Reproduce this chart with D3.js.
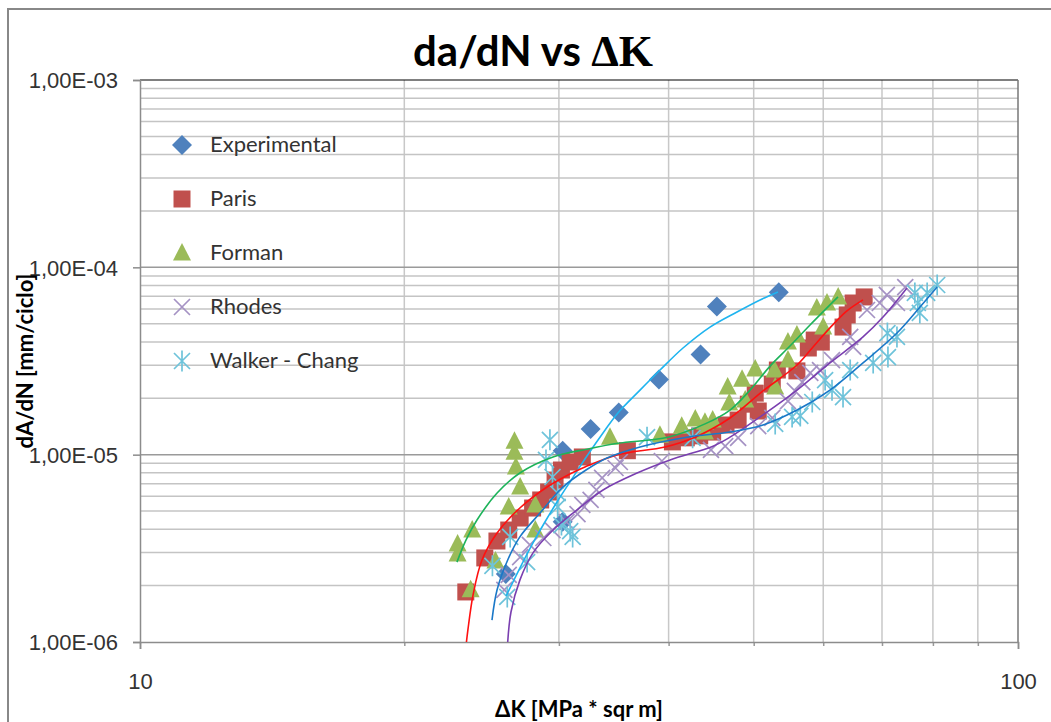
<!DOCTYPE html>
<html>
<head>
<meta charset="utf-8">
<script src="https://cdn.jsdelivr.net/npm/d3@7"></script>
<style>
  html, body { margin: 0; padding: 0; background: #fff; }
  svg { display: block; font-family: Lato, "Open Sans", sans-serif; }
</style>
</head>
<body>
<div id="chart"></div>
<script>
// ΔK [MPa*sqrt(m)] , da/dN [mm/ciclo]
const experimental = [[26.1, 2.31e-6], [30.3, 4.39e-6], [30.3, 1.05e-5], [32.6, 1.37e-5], [35.1, 1.68e-5],
  [39.0, 2.52e-5], [43.5, 3.43e-5], [45.4, 6.17e-5], [53.4, 7.36e-5]]

const paris = [[23.5, 1.85e-6], [24.7, 2.81e-6], [25.5, 3.46e-6], [26.3, 3.96e-6], [27.1, 4.59e-6], [28.0, 5.19e-6],
  [28.6, 5.73e-6], [29.2, 6.32e-6], [29.7, 7.32e-6], [30.2, 8.28e-6], [30.9, 9.14e-6], [31.9, 9.72e-6],
  [35.9, 1.05e-5], [40.4, 1.17e-5], [41.9, 1.23e-5], [43.4, 1.26e-5], [44.9, 1.32e-5], [46.5, 1.44e-5],
  [48.0, 1.53e-5], [49.3, 1.86e-5], [50.2, 2.13e-5], [50.6, 1.71e-5], [52.5, 2.38e-5], [53.2, 2.83e-5],
  [56.0, 2.80e-5], [57.7, 3.71e-5], [58.6, 4.09e-5], [59.7, 3.99e-5], [63.2, 4.80e-5], [63.9, 5.57e-5],
  [64.9, 6.45e-5], [66.8, 6.95e-5]]

const forman = [[23.0, 3.34e-6], [23.0, 2.95e-6], [23.8, 1.90e-6], [23.9, 3.96e-6], [25.4, 2.71e-6], [26.3, 5.26e-6],
  [26.7, 1.18e-5], [26.7, 1.03e-5], [26.8, 8.60e-6], [27.1, 6.72e-6], [28.2, 3.96e-6], [28.2, 5.39e-6],
  [34.3, 1.24e-5], [39.1, 1.27e-5], [41.4, 1.42e-5], [42.9, 1.55e-5], [44.0, 1.49e-5], [44.9, 1.53e-5],
  [44.0, 1.32e-5], [46.7, 2.30e-5], [46.9, 1.89e-5], [48.5, 2.53e-5], [48.9, 1.96e-5], [50.2, 2.87e-5],
  [52.9, 2.30e-5], [52.8, 2.83e-5], [54.7, 3.99e-5], [54.7, 3.20e-5], [56.0, 4.35e-5], [59.0, 6.07e-5],
  [60.0, 4.80e-5], [60.6, 6.45e-5], [62.4, 6.95e-5]]

const rhodes = [[26.0, 1.90e-6], [26.3, 2.28e-6], [27.1, 2.84e-6], [27.8, 3.30e-6], [28.8, 3.59e-6], [29.5, 3.96e-6],
  [30.6, 4.37e-6], [31.5, 4.82e-6], [31.9, 5.39e-6], [32.6, 5.73e-6], [33.1, 6.48e-6], [33.6, 7.51e-6],
  [34.8, 8.49e-6], [35.2, 9.14e-6], [39.3, 9.25e-6], [44.7, 1.06e-5], [46.4, 1.11e-5], [48.0, 1.23e-5],
  [50.6, 1.42e-5], [52.5, 1.57e-5], [54.7, 1.93e-5], [55.7, 2.19e-5], [56.8, 2.44e-5], [58.0, 2.73e-5],
  [59.5, 2.83e-5], [61.4, 3.20e-5], [64.4, 4.25e-5], [64.9, 3.76e-5], [67.3, 5.92e-5], [69.6, 6.45e-5],
  [70.9, 7.12e-5], [72.8, 6.45e-5], [74.4, 7.85e-5]]

const walkerChang = [[29.3, 1.20e-5], [29.0, 9.37e-6], [29.5, 7.60e-6], [29.9, 6.24e-6], [29.9, 5.26e-6], [30.2, 4.21e-6],
  [30.9, 3.91e-6], [31.1, 3.64e-6], [27.6, 2.67e-6], [26.4, 3.64e-6], [25.2, 2.55e-6], [26.2, 1.74e-6],
  [37.8, 1.24e-5], [42.6, 1.23e-5], [52.9, 1.46e-5], [55.3, 1.59e-5], [56.5, 1.61e-5], [58.3, 1.91e-5],
  [60.3, 2.50e-5], [61.4, 2.21e-5], [63.2, 2.03e-5], [64.4, 2.83e-5], [68.4, 3.09e-5], [71.1, 3.32e-5],
  [71.0, 4.46e-5], [72.8, 4.25e-5], [76.9, 6.45e-5], [77.3, 5.71e-5], [76.3, 7.30e-5], [78.8, 7.30e-5],
  [80.9, 8.05e-5]]

// trend lines
const trendExperimental = [[26.12, 1.76e-6], [27.08, 2.48e-6], [28.03, 3.38e-6], [28.92, 4.37e-6], [29.85, 5.59e-6],
  [30.88, 7.15e-6], [32.29, 9.84e-6], [33.85, 1.35e-5], [35.02, 1.67e-5], [37.11, 2.21e-5], [39.11, 2.83e-5],
  [41.54, 3.71e-5], [44.59, 4.80e-5], [47.86, 5.78e-5], [50.84, 6.70e-5], [53.29, 7.39e-5]]
const trendParis = [[23.54, 1.0e-6], [23.63, 1.16e-6], [23.95, 1.78e-6], [24.52, 2.74e-6], [25.51, 3.82e-6],
  [27.08, 5.19e-6], [29.08, 6.72e-6], [30.88, 7.89e-6], [32.12, 8.60e-6], [35.02, 1.0e-5], [39.62, 1.10e-5],
  [42.87, 1.24e-5], [46.99, 1.57e-5], [51.24, 2.19e-5], [56.02, 3.01e-5], [58.42, 3.76e-5], [61.07, 4.75e-5],
  [63.85, 5.85e-5], [66.60, 6.70e-5]]
const trendForman = [[22.96, 2.67e-6], [23.51, 3.50e-6], [24.20, 4.48e-6], [25.51, 6.24e-6], [27.08, 7.98e-6],
  [29.54, 9.72e-6], [32.29, 1.07e-5], [35.02, 1.15e-5], [39.94, 1.24e-5], [44.01, 1.46e-5], [46.99, 1.73e-5],
  [49.52, 2.21e-5], [52.19, 2.97e-5], [54.99, 3.80e-5], [57.96, 4.92e-5], [62.37, 6.95e-5]]
const trendRhodes = [[26.23, 1.0e-6], [26.46, 1.45e-6], [27.08, 2.14e-6], [28.03, 2.99e-6], [29.54, 3.96e-6],
  [31.46, 5.07e-6], [33.68, 6.48e-6], [36.83, 7.98e-6], [40.15, 9.37e-6], [44.94, 1.11e-5], [46.99, 1.24e-5],
  [51.24, 1.63e-5], [56.02, 2.21e-5], [61.07, 3.09e-5], [66.60, 4.25e-5], [70.19, 5.43e-5], [74.74, 7.76e-5]]
const trendWalker = [[25.17, 1.31e-6], [25.51, 1.90e-6], [26.23, 2.74e-6], [27.08, 3.64e-6], [28.55, 4.88e-6],
  [30.32, 6.72e-6], [32.21, 8.28e-6], [34.03, 9.60e-6], [37.11, 1.10e-5], [41.98, 1.24e-5], [46.99, 1.32e-5],
  [51.24, 1.44e-5], [56.02, 1.73e-5], [61.07, 2.21e-5], [66.60, 3.09e-5], [72.81, 4.46e-5], [77.34, 6.14e-5],
  [80.88, 7.85e-5]]

const xDomain = [10, 100]
const yDomain = [1e-6, 1e-3]
const xLabels = [10, 100]

const width = 1051
const height = 722
const plot = { left: 140, right: 1018, top: 80, bottom: 642 }

// marker shapes (path centred on 0,0)
const shapes = {
  diamond: 'M0,-10L10,0L0,10L-10,0Z',
  square: 'M-8.5,-8.5H8.5V8.5H-8.5Z',
  triangle: 'M0,-10L9,7.5H-9Z',
  cross: 'M-8,-8L8,8M8,-8L-8,8',
  star: 'M-8,-8L8,8M8,-8L-8,8M0,-10.5V10.5'
}

const series = [
  { name: 'Experimental', data: experimental, shape: 'diamond', fill: '#4f81bd', trend: trendExperimental, line: '#1fb4ef' },
  { name: 'Paris', data: paris, shape: 'square', fill: '#c0504d', trend: trendParis, line: '#ff1010' },
  { name: 'Forman', data: forman, shape: 'triangle', fill: '#9bbb59', trend: trendForman, line: '#1db35a' },
  { name: 'Rhodes', data: rhodes, shape: 'cross', stroke: '#a592c4', trend: trendRhodes, line: '#7a3fb0' },
  { name: 'Walker - Chang', data: walkerChang, shape: 'star', stroke: '#6ec3da', trend: trendWalker, line: '#1a78c8' }
]

const x = d3.scaleLog().domain(xDomain).range([plot.left, plot.right])
const y = d3.scaleLog().domain(yDomain).range([plot.bottom, plot.top])

const svg = d3.select('#chart').append('svg')
  .attr('width', width).attr('height', height)

// chart frame
svg.append('rect').attr('x', 8).attr('y', 9).attr('width', 1100).attr('height', 800)
  .attr('fill', '#fff').attr('stroke', '#888').attr('stroke-width', 2)

svg.append('defs').append('clipPath').attr('id', 'plotclip')
  .append('rect').attr('x', plot.left).attr('y', plot.top)
  .attr('width', plot.right - plot.left).attr('height', plot.bottom - plot.top)

// grid
const yTicks = y.ticks()
const isMajor = v => Math.abs(Math.log10(v) - Math.round(Math.log10(v))) < 1e-9
const grid = svg.append('g')
grid.selectAll('line.v').data(x.ticks().filter(v => v > 10 && v < 100)).join('line')
  .attr('x1', d => x(d)).attr('x2', d => x(d)).attr('y1', plot.top).attr('y2', plot.bottom)
  .attr('stroke', '#c8c8c8').attr('stroke-width', 1.5)
grid.selectAll('line.h').data(yTicks.filter(v => !isMajor(v))).join('line')
  .attr('x1', plot.left).attr('x2', plot.right).attr('y1', d => y(d)).attr('y2', d => y(d))
  .attr('stroke', '#c4c4c4').attr('stroke-width', 1.5)
grid.selectAll('line.hm').data(yTicks.filter(v => isMajor(v) && v > 1e-6 && v < 1e-3)).join('line')
  .attr('x1', plot.left).attr('x2', plot.right).attr('y1', d => y(d)).attr('y2', d => y(d))
  .attr('stroke', '#9a9a9a').attr('stroke-width', 1.5)

// plot border (top black, right grey)
svg.append('line').attr('x1', plot.left).attr('x2', plot.right).attr('y1', plot.top).attr('y2', plot.top)
  .attr('stroke', '#000').attr('stroke-width', 1)
svg.append('line').attr('x1', plot.right).attr('x2', plot.right).attr('y1', plot.top).attr('y2', plot.bottom)
  .attr('stroke', '#777').attr('stroke-width', 1.5)

// axes
const fmtE = d => {
  const e = Math.round(Math.log10(d))
  return '1,00E' + (e < 0 ? '-' : '+') + String(Math.abs(e)).padStart(2, '0')
}
const yAxis = svg.append('g').attr('transform', `translate(${plot.left},0)`)
  .call(d3.axisLeft(y).tickValues(yTicks.filter(isMajor)).tickSize(7).tickPadding(15).tickFormat(fmtE))
yAxis.select('.domain').attr('stroke', '#8c8c8c').attr('stroke-width', 1.5)
yAxis.selectAll('.tick line').attr('stroke', '#8c8c8c').attr('stroke-width', 1.5)
yAxis.selectAll('.tick text').attr('fill', '#333').style('font-size', '22px').attr('dy', '0.36em')

const xMinor = svg.append('g').attr('transform', `translate(0,${plot.bottom})`)
  .call(d3.axisBottom(x).tickValues(x.ticks().filter(v => v > 10 && v < 100)).tickSize(4).tickFormat(''))
xMinor.select('.domain').remove()
xMinor.selectAll('.tick line').attr('stroke', '#999').attr('stroke-width', 1.5)
const xAxis = svg.append('g').attr('transform', `translate(0,${plot.bottom})`)
  .call(d3.axisBottom(x).tickValues(xLabels).tickSize(7).tickPadding(24).tickFormat(d3.format('d')))
xAxis.select('.domain').attr('stroke', '#8c8c8c').attr('stroke-width', 1.5)
xAxis.selectAll('.tick line').attr('stroke', '#8c8c8c').attr('stroke-width', 1.5)
xAxis.selectAll('.tick text').attr('fill', '#333').style('font-size', '22px')

// markers
const marks = svg.append('g').attr('clip-path', 'url(#plotclip)')
series.forEach(s => {
  marks.append('g').selectAll('path').data(s.data).join('path')
    .attr('transform', d => `translate(${x(d[0])},${y(d[1])})`)
    .attr('d', shapes[s.shape])
    .attr('fill', s.fill || 'none')
    .attr('stroke', s.stroke || 'none')
    .attr('stroke-width', 1.7)
})

// trend lines on top
const line = d3.line().x(d => x(d[0])).y(d => y(d[1])).curve(d3.curveCatmullRom)
const trends = svg.append('g').attr('clip-path', 'url(#plotclip)')
series.forEach(s => {
  trends.append('path').datum(s.trend).attr('d', line)
    .attr('fill', 'none').attr('stroke', s.line).attr('stroke-width', 1.6)
})

// legend
const legend = svg.append('g')
series.forEach((s, i) => {
  const ly = 145 + i * 54
  legend.append('path').attr('transform', `translate(182,${ly})`).attr('d', shapes[s.shape])
    .attr('fill', s.fill || 'none').attr('stroke', s.stroke || 'none').attr('stroke-width', 1.7)
  legend.append('text').attr('x', 210).attr('y', ly + 7).attr('fill', '#333')
    .style('font-size', '22px').text(s.name)
})

// titles
const title = svg.append('text').attr('x', 533).attr('y', 66).attr('text-anchor', 'middle')
  .style('font-weight', 'bold').attr('fill', '#000')
title.append('tspan').style('font-size', '42px').text('da/dN vs ')
title.append('tspan').style('font-family', '"Liberation Serif", serif').style('font-size', '44px').text('ΔK')

svg.append('text').attr('x', (plot.left + plot.right) / 2).attr('y', 717).attr('text-anchor', 'middle')
  .style('font-weight', 'bold').style('font-size', '22px').attr('fill', '#000')
  .text('ΔK [MPa * sqr m]')

svg.append('text').attr('transform', `translate(33,${(plot.top + plot.bottom) / 2}) rotate(-90)`)
  .attr('text-anchor', 'middle').style('font-weight', 'bold').style('font-size', '22px').attr('fill', '#000')
  .text('dA/dN [mm/ciclo]')
</script>
</body>
</html>
